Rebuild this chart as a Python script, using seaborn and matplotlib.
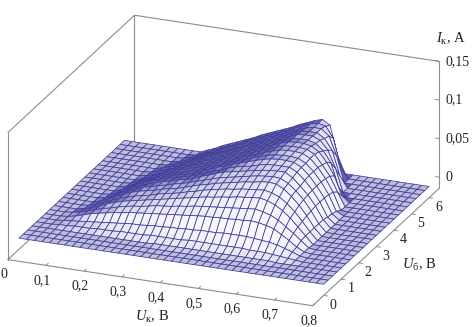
import numpy as np
import seaborn as sns
import matplotlib
matplotlib.use("Agg")
import matplotlib.pyplot as plt
from mpl_toolkits.mplot3d import proj3d

sns.set_theme(style="white")
plt.rcParams['font.family'] = ['Liberation Serif', 'DejaVu Serif']
plt.rcParams['mathtext.fontset'] = 'custom'
plt.rcParams['mathtext.rm'] = 'Liberation Serif'
plt.rcParams['mathtext.it'] = 'Liberation Serif:italic'

# grid
u_k = [0, .02, .04, .06, .08, .10, .12, .14, .16, .18, .20, .22, .24, .26, .28, .30, .32, .34, .36, .38, .40,
       .42, .44, .46, .48, .50, .52, .54, .56, .58, .60, .62, .64, .66, .68, .70, .72, .74, .76, .78, .80]
u_b = [0, .25, .5, .75, 1, 1.25, 1.5, 1.75, 2, 2.25, 2.5, 2.75, 3, 3.25, 3.5, 3.75, 4, 4.25, 4.5, 4.75, 5,
       5.25, 5.5, 5.75, 6]

# collector current in mA, one row per u_b value
i_k_ma = [
    [0,0,0,0,0, 0,0,0,0,0, 0,0,0,0,0, 0,0,0,0,0, 0,0,0,0,0, 0,0,0,0,0, 0,0,0,0,0, 0,0,0,0,0, 0],
    [0,0,0,0,0, 0,0,0,0,0, 0,0,0,0,0, 0,0,0,0,0, 0,0,0,0,0, 0,0,0,0,0, 0,0,0,0,0, 0,0,0,0,0, 0],
    [0,0,0,0,0, 0,0,0,0,0, 0,0,0,0,0, 0,0,0,0,0, 0,0,0,0,0, 0,0,0,0,0, 0,0,0,0,0, 0,0,0,0,0, 0],
    [0,0,0,0,0, 0,0,0,0,0, 0,0,0,0,0, 0,1,1,1,1, 1,1,1,1,1, 1,1,1,1,1, 1,1,0,0,0, 0,0,0,0,0, 0],
    [0,0,0,1,1, 2,2,2,3,3, 3,4,4,4,4, 5,5,5,5,5, 6,6,6,6,6, 6,6,6,5,5, 5,4,3,2,1, 0,0,0,0,0, 0],
    [0,0,0,1,2, 3,4,5,6,7, 8,9,10,10,11, 12,12,13,13,14, 14,15,15,15,16, 16,16,16,15,14, 13,11,8,5,1, 0,0,0,0,0, 0],
    [0,0,0,1,3, 6,9,11,13,15, 16,18,19,20,21, 22,23,24,25,26, 27,28,28,29,29, 30,30,31,30,28, 25,19,13,6,1, 0,0,0,0,0, 0],
    [0,0,0,1,3, 6,9,12,14,17, 19,21,22,24,26, 27,28,30,31,33, 34,35,36,37,38, 39,40,41,39,36, 31,24,17,9,1, 0,0,0,0,0, 0],
    [0,0,0,0,2, 5,9,13,16,19, 21,23,25,27,29, 31,33,35,37,39, 41,42,44,45,47, 48,49,50,48,44, 38,30,20,10,0, 0,0,0,0,0, 0],
    [0,0,0,0,1, 4,8,12,16,19, 22,24,26,29,31, 33,35,38,40,43, 45,47,49,50,52, 53,54,55,53,49, 42,33,22,10,0, 0,0,0,0,0, 0],
    [0,0,0,0,0, 3,7,12,16,20, 23,25,27,30,32, 34,37,40,43,45, 48,50,52,54,56, 57,59,60,59,54, 46,36,24,10,0, 0,0,0,0,0, 0],
    [0,0,0,0,0, 2,6,11,15,19, 23,25,28,30,33, 35,38,41,44,47, 50,52,54,56,58, 60,61,62,61,56, 48,38,25,10,0, 0,0,0,0,0, 0],
    [0,0,0,0,0, 1,4,9,14,18, 22,25,28,30,33, 35,38,42,45,49, 52,54,56,58,60, 62,63,64,64,58, 49,39,26,10,0, 0,0,0,0,0, 0],
    [0,0,0,0,0, 0,3,8,13,17, 21,24,27,29,32, 34,38,41,45,48, 52,55,57,59,62, 64,65,65,65,60, 51,40,26,8,0, 0,0,0,0,0, 0],
    [0,0,0,0,0, 0,2,6,11,15, 19,22,25,28,30, 33,37,41,45,48, 52,55,58,61,64, 66,67,67,66,61, 52,40,26,7,0, 0,0,0,0,0, 0],
    [0,0,0,0,0, 0,1,5,9,13, 17,20,23,26,29, 32,36,40,43,47, 51,54,58,61,64, 66,67,67,66,61, 52,40,25,5,0, 0,0,0,0,0, 0],
    [0,0,0,0,0, 0,0,3,7,11, 15,18,22,25,28, 31,35,39,42,46, 50,54,57,61,64, 67,68,68,67,62, 52,39,23,1,0, 0,0,0,0,0, 0],
    [0,0,0,0,0, 0,0,2,5,9, 13,17,20,24,27, 30,34,38,42,45, 49,53,57,60,64, 67,68,68,67,62, 50,37,18,0,0, 0,0,0,0,0, 0],
    [0,0,0,0,0, 0,0,1,4,7, 11,15,18,22,26, 29,33,37,41,44, 48,52,56,60,64, 67,68,68,66,60, 48,32,8,0,0, 0,0,0,0,0, 0],
    [0,0,0,0,0, 0,0,0,3,6, 9,13,17,21,24, 28,32,36,40,43, 47,51,55,59,63, 66,67,67,64,56, 42,12,0,0,0, 0,0,0,0,0, 0],
    [0,0,0,0,0, 0,0,0,1,4, 7,11,15,19,23, 27,31,35,39,42, 46,50,54,58,62, 66,67,67,63,52, 30,0,0,0,0, 0,0,0,0,0, 0],
    [0,0,0,0,0, 0,0,0,0,2, 5,9,13,17,21, 25,29,33,37,41, 45,49,53,57,61, 65,66,66,60,46, 15,0,0,0,0, 0,0,0,0,0, 0],
    [0,0,0,0,0, 0,0,0,0,1, 3,7,11,15,20, 24,28,32,36,40, 44,48,52,56,60, 64,66,66,58,34, 0,0,0,0,0, 0,0,0,0,0, 0],
    [0,0,0,0,0, 0,0,0,0,0, 1,5,9,14,18, 22,26,31,35,39, 43,47,51,56,60, 64,66,64,50,12, 0,0,0,0,0, 0,0,0,0,0, 0],
    [0,0,0,0,0, 0,0,0,0,0, 0,4,8,13,17, 21,25,29,34,38, 42,46,50,55,59, 63,66,60,22,0, 0,0,0,0,0, 0,0,0,0,0, 0],
]

x_ticks = [0, .1, .2, .3, .4, .5, .6, .7, .8]
x_labels = ['0', '0,1', '0,2', '0,3', '0,4', '0,5', '0,6', '0,7', '0,8']
y_ticks = [0, 1, 2, 3, 4, 5, 6]
z_ticks = [0, .05, .1, .15]
z_labels = ['0', '0,05', '0,1', '0,15']

x_lo, x_hi = 0, .8
y_lo, y_hi = -.63, 6.57
z_lo, z_hi = -.0145, .15

wire = sns.blend_palette(['#3f3c98', '#5a58aa'], 2)[0]
frame = '#8c8c8c'
ink = '#222222'

fig = plt.figure(figsize=(4.72, 3.27), dpi=100)
ax = fig.add_axes([.1178, -.0043, .6928, 1], projection='3d', computed_zorder=False)
ax.set_proj_type('ortho')
ax.view_init(elev=22, azim=-68)
ax.set_box_aspect((328.6, 337.8, 137), zoom=1.457)
ax.set_xlim(x_lo, x_hi)
ax.set_ylim(y_lo, y_hi)
ax.set_zlim(z_lo, z_hi)
ax.set_xticks([])
ax.set_yticks([])
ax.set_zticks([])
ax.set_axis_off()


def label(x, y, z, s, ha='center', size=10):
    px, py, _ = proj3d.proj_transform(x, y, z, ax.get_proj())
    ax.text2D(px, py, s, transform=ax.transData, ha=ha, va='center', fontsize=size, color=ink, clip_on=False)


X, Y = np.meshgrid(u_k, u_b)
Z = np.array(i_k_ma) / 1000

# the finer the cell looks on screen the more the wires merge, so tint it
mA = np.array(i_k_ma, dtype=float)
dz_row = np.diff(mA, axis=0)[:, :-1]
dz_col = np.diff(mA, axis=1)[:-1, :]
area = np.abs(7.63 * (-4.1 - .76 * dz_row) - 4.4 * (1.15 - .76 * dz_col))
tone = np.clip(.5 * (30 / np.maximum(area, 1)) ** 2, 0, .8)[..., None]
faces = np.dstack([(1 - tone) + tone * wire[0], (1 - tone) + tone * wire[1], (1 - tone) + tone * wire[2]])

surf = ax.plot_surface(X, Y, Z, rstride=1, cstride=1, facecolors=faces, shade=False, linewidth=.55, zorder=2)
surf.set_edgecolor(wire)

# box edges behind the surface
for xs, ys, zs in [
    ([x_lo, x_lo], [y_hi, y_hi], [z_lo, z_hi]),
    ([x_lo, x_lo], [y_lo, y_hi], [z_lo, z_lo]),
    ([x_lo, x_lo], [y_lo, y_hi], [z_hi, z_hi]),
    ([x_lo, x_hi], [y_hi, y_hi], [z_hi, z_hi]),
    ([x_lo, x_lo], [y_lo, y_lo], [z_lo, z_hi]),
    ([x_hi, x_hi], [y_hi, y_hi], [z_lo, z_hi]),
]:
    ax.plot(xs, ys, zs, color=frame, lw=.8, zorder=1)

# front floor edges
ax.plot([x_lo, x_hi], [y_lo, y_lo], [z_lo, z_lo], color=frame, lw=.8, zorder=3)
ax.plot([x_hi, x_hi], [y_lo, y_hi], [z_lo, z_lo], color=frame, lw=.8, zorder=3)

for t, s in zip(x_ticks, x_labels):
    ax.plot([t, t], [y_lo, y_lo + .13], [z_lo, z_lo], color=frame, lw=.7, zorder=3)
    label(t - .0105, y_lo, z_lo - .02, s)

for t in y_ticks:
    ax.plot([x_hi, x_hi + .01], [t, t], [z_lo, z_lo], color=frame, lw=.7, zorder=3)
    label(x_hi + .025, t, z_lo - .0107, str(t))

for t, s in zip(z_ticks, z_labels):
    ax.plot([x_hi, x_hi - .01], [y_hi, y_hi], [t, t], color=frame, lw=.7, zorder=3)
    label(x_hi + .018, y_hi, t + .0014, s, ha='left')

label(x_hi - .008, y_hi, .178, r'$I_{\mathrm{к}}$, А', ha='left', size=10.5)
label(.379, y_lo, z_lo - .046, r'$U_{\mathrm{к}}$, В', size=10.5)
label(x_hi + .038, 4.6, z_lo - .055, r'$U_{\mathrm{б}}$, В', size=10.5)

for artist in ax.get_children():
    artist.set_clip_on(False)

fig.savefig('out.png', dpi=100)
